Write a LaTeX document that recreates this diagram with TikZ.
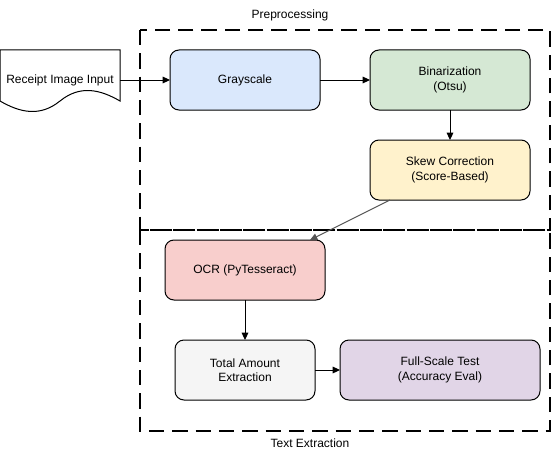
\documentclass[tikz,border=0pt]{standalone}
\usepackage{fontspec}
\setmainfont{Liberation Sans}
\usetikzlibrary{arrows.meta,calc}
\definecolor{cblue}{HTML}{DAE8FC}
\definecolor{cgreen}{HTML}{D5E8D4}
\definecolor{cyellow}{HTML}{FFF2CC}
\definecolor{cred}{HTML}{F8CECC}
\definecolor{cgrey}{HTML}{F5F5F5}
\definecolor{cpurple}{HTML}{E1D5E7}
\definecolor{cline}{HTML}{555555}
\tikzset{
  stage/.style={draw=black, line width=0.75pt, rounded corners=6.75pt, align=center,
    minimum height=45pt, inner sep=0pt, outer sep=0pt,
    font=\fontsize{9}{10.8}\selectfont},
  group/.style={draw=black, line width=1.5pt, dash pattern=on 11.5pt off 6pt},
  conn/.style={draw=black, line width=0.75pt, -{Triangle[length=5.5pt,width=5pt]}},
  lbl/.style={font=\fontsize{9}{10.8}\selectfont, inner sep=0pt},
}
\begin{document}
\begin{tikzpicture}[x=0.75pt,y=-0.75pt]
\useasboundingbox (0,0) rectangle (552,460);
% groups
\draw[group] (140,30) rectangle (550,230);
\draw[group] (140,230) rectangle (550,431);
\node[lbl] (lpre) at (290,15) {Preprocessing};
\node[lbl] (ltext) at (310,443) {Text Extraction};
% document shape
\draw[line width=0.75pt, fill=white] (0,50) -- (120,50) -- (120,101)
  .. controls (100,89.4) and (80,84.8) .. (60,101)
  .. controls (40,117.2) and (20,112.6) .. (0,101) -- cycle;
\node[lbl, minimum width=90pt, minimum height=45pt] (doc) at (60,80) {Receipt Image Input};
% stages
\node[stage, fill=cblue, minimum width=112.5pt] (gray) at (245,80) {Grayscale};
\node[stage, fill=cgreen, minimum width=120pt] (bin) at (450,80) {Binarization\\(Otsu)};
\node[stage, fill=cyellow, minimum width=120pt] (skew) at (450,170) {Skew Correction\\(Score-Based)};
\node[stage, fill=cred, minimum width=120pt] (ocr) at (245,270) {OCR (PyTesseract)};
\node[stage, fill=cgrey, minimum width=105pt] (total) at (245,370) {Total Amount\\Extraction};
\node[stage, fill=cpurple, minimum width=150pt] (full) at (440,370) {Full-Scale Test\\(Accuracy Eval)};
% connectors
\draw[conn] (doc.east) -- (gray.west);
\draw[conn] (gray.east) -- (bin.west);
\draw[conn] (bin.south) -- (skew.south |- skew.north);
\draw[conn, draw=cline] ($(skew.south west)!0.125!(skew.south east)$) -- ($(ocr.north east)+(-15,0)$);
\draw[conn] (ocr.south) -- (total.north);
\draw[conn] (total.east) -- (full.west);
\end{tikzpicture}
\end{document}
